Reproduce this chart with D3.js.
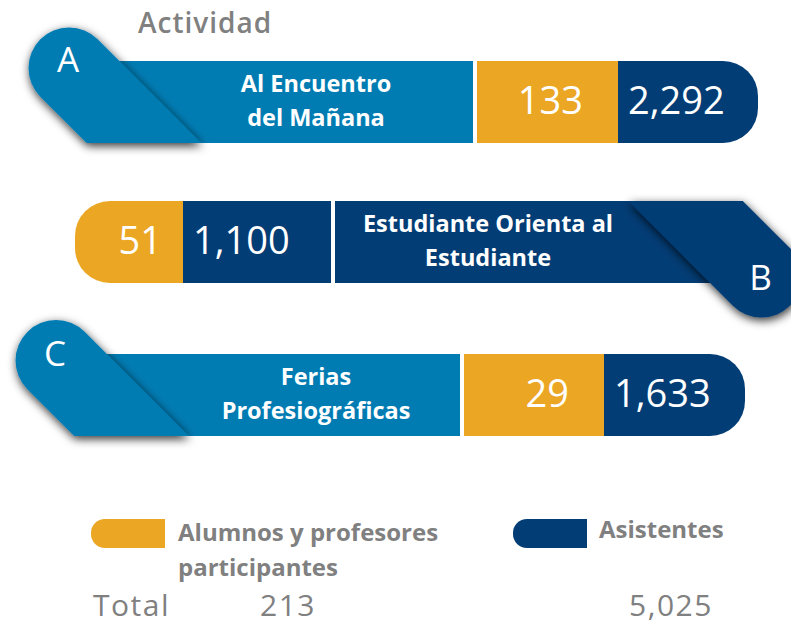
<!DOCTYPE html>
<html>
<head>
<meta charset="utf-8">
<script src="https://cdn.jsdelivr.net/npm/d3@7"></script>
<style>
  body { margin: 0; background: #fff; }
  svg { display: block; font-family: "Open Sans", sans-serif; }
</style>
</head>
<body>
<div id="chart"></div>
<script>
// data
const letters = ["A", "B", "C"];
const activities = [
    ["Al Encuentro", "del Mañana"],
    ["Estudiante Orienta al", "Estudiante"],
    ["Ferias", "Profesiográficas"]
];
const participants = [133, 51, 29];
const attendees = [2292, 1100, 1633];
const legendLabels = [["Alumnos y profesores", "participantes"], ["Asistentes"]];
const headerLabel = "Actividad";
const totalLabel = "Total";

const colors = { blue: "#017cb3", orange: "#eba623", navy: "#033d75", gray: "#808080" };

const width = 791, height = 626, barH = 82, tabR = 40.5;

// row layout (pixels)
const rowTop = d3.scaleOrdinal().domain(letters).range([61, 201, 354]);
const layout = {
    A: { side: "left", tab: [69, 68], label: 473, orange: [477, 618], navy: [618, 758], textX: 316, letterDy: 4 },
    B: { side: "right", tab: [761.5, 277], label: 335, orange: [75, 183], navy: [183, 331], textX: 488, letterDy: 13 },
    C: { side: "left", tab: [56, 360.5], label: 460, orange: [464, 604], navy: [604, 745], textX: 316, letterDy: 5 }
};

const fmt = d3.format(",");

const svg = d3.select("#chart")
    .append("svg")
    .attr("width", width)
    .attr("height", height);

const defs = svg.append("defs");
const shadow = defs.append("filter")
    .attr("id", "tabShadow")
    .attr("x", "-40%").attr("y", "-40%")
    .attr("width", "180%").attr("height", "180%");
shadow.append("feDropShadow")
    .attr("dx", 1).attr("dy", 3)
    .attr("stdDeviation", 5)
    .attr("flood-color", "#000")
    .attr("flood-opacity", 0.8);

// rectangle with optional rounded left / right ends
function pill(x0, x1, y0, y1, rl, rr) {
    const p = d3.path();
    p.moveTo(x0 + rl, y0);
    p.lineTo(x1 - rr, y0);
    if (rr) p.arcTo(x1, y0, x1, y0 + rr, rr), p.lineTo(x1, y1 - rr), p.arcTo(x1, y1, x1 - rr, y1, rr);
    else p.lineTo(x1, y0), p.lineTo(x1, y1);
    p.lineTo(x0 + rl, y1);
    if (rl) p.arcTo(x0, y1, x0, y1 - rl, rl), p.lineTo(x0, y0 + rl), p.arcTo(x0, y0, x0 + rl, y0, rl);
    else p.lineTo(x0, y1), p.lineTo(x0, y0);
    p.closePath();
    return p.toString();
}

// diagonal capsule tab ending on the bar edge at yEnd
function tabGeom(cx, cy, r, yEnd, down) {
    const d = r / Math.SQRT2;
    const p1 = [cx + d, cy - d], p2 = [cx - d, cy + d];
    if (down) {
        const e1 = [p1[0] + (yEnd - p1[1]), yEnd], e2 = [p2[0] + (yEnd - p2[1]), yEnd];
        return { d: `M${e2}L${p2}A${r},${r} 0 0 1 ${p1}L${e1}Z`, edge: e2[0] };
    }
    const e1 = [p1[0] - (p1[1] - yEnd), yEnd], e2 = [p2[0] - (p2[1] - yEnd), yEnd];
    return { d: `M${e1}L${p1}A${r},${r} 0 0 1 ${p2}L${e2}Z`, edge: e1[0] };
}

// header
svg.append("text")
    .attr("x", 138).attr("y", 33)
    .attr("font-size", 28).attr("font-weight", 600)
    .attr("letter-spacing", 1)
    .attr("fill", colors.gray)
    .text(headerLabel);

const rows = letters.map((k, i) => ({
    key: k, lines: activities[i], part: participants[i], att: attendees[i], L: layout[k]
}));

const row = svg.selectAll("g.row")
    .data(rows)
    .join("g")
    .attr("class", "row");

row.each(function (r) {
    const g = d3.select(this);
    const y0 = rowTop(r.key), y1 = y0 + barH;
    const L = r.L;
    const left = L.side === "left";
    const labelColor = left ? colors.blue : colors.navy;
    const tab = tabGeom(L.tab[0], L.tab[1], tabR, left ? y1 : y0, left);

    // label bar
    const lx0 = left ? tab.edge : L.label, lx1 = left ? L.label : tab.edge;
    g.append("rect")
        .attr("x", lx0).attr("y", y0)
        .attr("width", lx1 - lx0).attr("height", barH)
        .attr("fill", labelColor);

    // participants and attendees
    g.append("path")
        .attr("d", pill(L.orange[0], L.orange[1], y0, y1, left ? 0 : 35, 0))
        .attr("fill", colors.orange);
    g.append("path")
        .attr("d", pill(L.navy[0], L.navy[1], y0, y1, 0, left ? 35 : 0))
        .attr("fill", colors.navy);

    g.append("text")
        .attr("x", L.orange[1] - (left ? 35 : 21))
        .attr("y", y0 + 53)
        .attr("text-anchor", "end")
        .attr("font-size", 38)
        .attr("fill", "#fff")
        .text(fmt(r.part));
    g.append("text")
        .attr("x", L.navy[0] + 10)
        .attr("y", y0 + 53)
        .attr("font-size", 38)
        .attr("fill", "#fff")
        .text(fmt(r.att));

    // activity name
    g.append("text")
        .attr("x", L.textX)
        .attr("text-anchor", "middle")
        .attr("font-size", 23.5).attr("font-weight", 700)
        .attr("fill", "#fff")
        .selectAll("tspan")
        .data(r.lines)
        .join("tspan")
        .attr("x", L.textX)
        .attr("y", (d, j) => y0 + 31 + j * 34)
        .text(d => d);

    // tab with letter
    g.append("path")
        .attr("d", tab.d)
        .attr("fill", labelColor)
        .attr("filter", "url(#tabShadow)");
    g.append("text")
        .attr("x", L.tab[0] - 1)
        .attr("y", L.tab[1] + L.letterDy)
        .attr("text-anchor", "middle")
        .attr("font-size", 35)
        .attr("fill", "#fff")
        .text(r.key);
});

// legend
const legend = svg.append("g");
const legendItems = [
    { x: 91, color: colors.orange, lines: legendLabels[0], tx: 178, ty: 541 },
    { x: 513, color: colors.navy, lines: legendLabels[1], tx: 599, ty: 538 }
];
legendItems.forEach(it => {
    legend.append("path")
        .attr("d", pill(it.x, it.x + 74, 519, 548, 14, 0))
        .attr("fill", it.color);
    legend.append("text")
        .attr("font-size", 24).attr("font-weight", 700)
        .attr("fill", colors.gray)
        .selectAll("tspan")
        .data(it.lines)
        .join("tspan")
        .attr("x", it.tx)
        .attr("y", (d, j) => it.ty + j * 35)
        .text(d => d);
});

// totals
const totals = svg.append("g")
    .attr("font-size", 30)
    .attr("letter-spacing", 1.5)
    .attr("fill", colors.gray);
totals.append("text").attr("x", 93).attr("y", 616).text(totalLabel);
totals.append("text").attr("x", 288).attr("y", 616).attr("text-anchor", "middle")
    .text(fmt(d3.sum(participants)));
totals.append("text").attr("x", 671).attr("y", 616).attr("text-anchor", "middle")
    .text(fmt(d3.sum(attendees)));
</script>
</body>
</html>
